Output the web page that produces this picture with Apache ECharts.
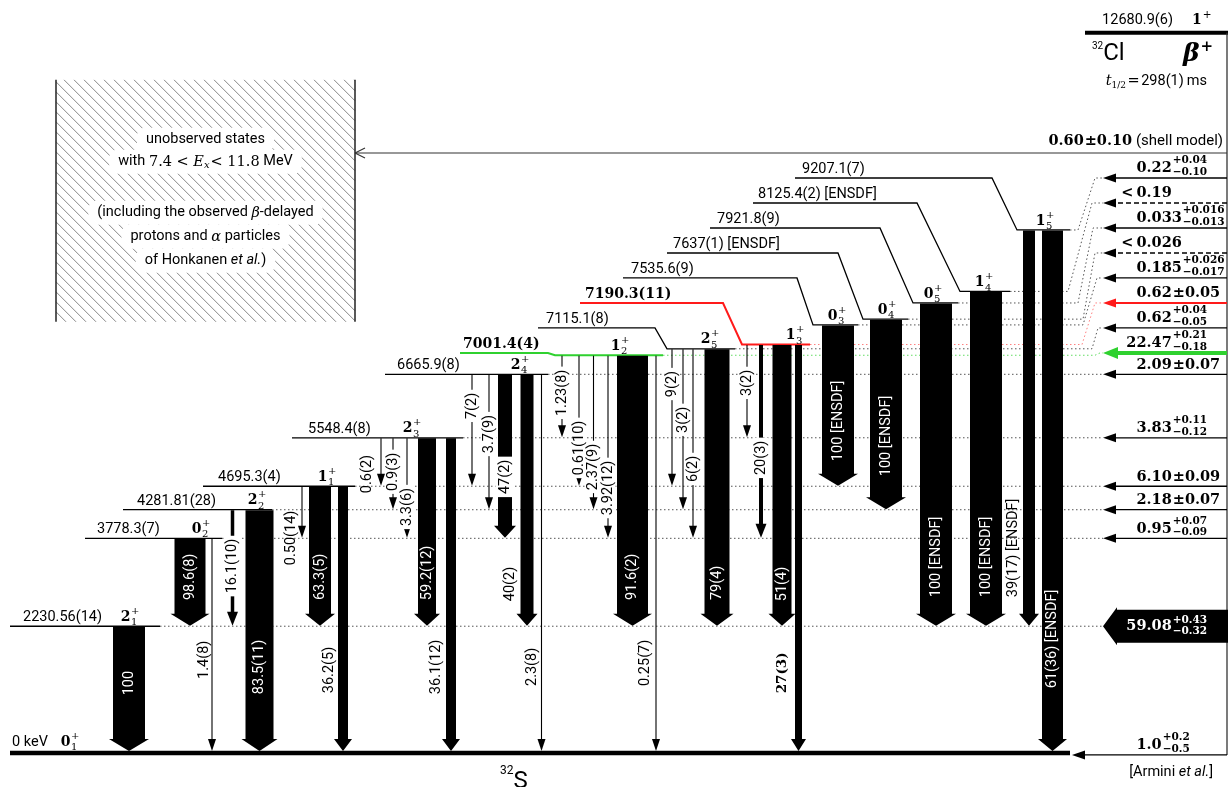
<!DOCTYPE html>
<html lang="en">
<head>
<meta charset="UTF-8">
<title>32Cl beta decay to 32S</title>
<script src="https://cdn.jsdelivr.net/npm/echarts@6/dist/echarts.min.js"></script>
<style>
html, body { margin: 0; padding: 0; background: #fff; }
#main { width: 1230px; height: 787px; }
</style>
</head>
<body>
<div id="main"></div>
<script>
// ---------- data: 32S levels fed in the beta+ decay of 32Cl ----------
var levelEnergy = [0, 2230.56, 3778.3, 4281.81, 4695.3, 5548.4, 6665.9, 7001.4, 7115.1, 7190.3, 7535.6, 7637, 7921.8, 8125.4, 9207.1];
var levelLabel = ['0 keV', '2230.56(14)', '3778.3(7)', '4281.81(28)', '4695.3(4)', '5548.4(8)', '6665.9(8)', '7001.4(4)',
    '7115.1(8)', '7190.3(11)', '7535.6(9)', '7637(1) [ENSDF]', '7921.8(9)', '8125.4(2) [ENSDF]', '9207.1(7)'];
var levelSpin = ['0', '2', '0', '2', '1', '2', '2', '1', '2', '1', '0', '0', '0', '1', '1'];
var levelSpinIndex = [1, 1, 2, 2, 1, 3, 4, 2, 5, 3, 3, 4, 5, 4, 5];

// gamma transitions: from level, to level, relative intensity
var gammaFrom = [1, 2, 2, 3, 3, 4, 4, 4, 5, 5, 5, 5, 5, 6, 6, 6, 6, 6, 7, 7, 7, 7, 7, 7, 8, 8, 8, 8, 9, 9, 9, 9, 10, 11, 12, 13, 14, 14];
var gammaTo   = [0, 1, 0, 1, 0, 2, 1, 0, 4, 3, 2, 1, 0, 4, 3, 2, 1, 0, 5, 4, 3, 2, 1, 0, 4, 3, 2, 1, 5, 2, 1, 0, 4, 3, 1, 1, 1, 0];
var gammaIntensity = ['100', '98.6(8)', '1.4(8)', '16.1(10)', '83.5(11)', '0.50(14)', '63.3(5)', '36.2(5)',
    '0.6(2)', '0.9(3)', '3.3(6)', '59.2(12)', '36.1(12)', '7(2)', '3.7(9)', '47(2)', '40(2)', '2.3(8)',
    '1.23(8)', '0.61(10)', '2.37(9)', '3.92(12)', '91.6(2)', '0.25(7)', '9(2)', '3(2)', '6(2)', '79(4)',
    '3(2)', '20(3)', '51(4)', '27(3)', '100 [ENSDF]', '100 [ENSDF]', '100 [ENSDF]', '100 [ENSDF]',
    '39(17) [ENSDF]', '61(36) [ENSDF]'];

// beta feeding in %, first entry: unobserved states (shell model)
var feedLevel = [-1, 14, 13, 12, 11, 10, 9, 8, 7, 6, 5, 4, 3, 2, 1, 0];
var feedValue = ['0.60', '0.22', '<0.19', '0.033', '<0.026', '0.185', '0.62', '0.62', '22.47', '2.09', '3.83', '6.10', '2.18', '0.95', '59.08', '1.0'];
var feedErrUp = ['0.10', '0.04', '', '0.016', '', '0.026', '0.05', '0.04', '0.21', '0.07', '0.11', '0.09', '0.07', '0.07', '0.43', '0.2'];
var feedErrDown = ['0.10', '0.10', '', '0.013', '', '0.017', '0.05', '0.05', '0.18', '0.07', '0.12', '0.09', '0.07', '0.09', '0.32', '0.5'];

var parentEnergy = 12680.9;
var parentLabel = '12680.9(6)';

// ---------- layout (x in px, label heights in keV) ----------
var levelX1 = [10, 10, 85, 123, 203, 292, 385, 555, 667, 742, 813, 863, 913, 960, 1017];
var levelX2 = [1070, 160, 222, 272, 355, 463, 548, 663, 735, 810, 858, 908, 958, 1010, 1070];
var levelTextX = [12, 23, 97, 137, 218, 308, 397, 463, 546, 585, 631, 673, 717, 758, 802];
var levelSpinX = [70, 130, 201, 257, 327, 412, 520, 620, 710, 795, 837, 887, 933, 984, 1045];
var levelSlot = [0, 0, 0, 0, 0, 0, 0, 8, 7, 6, 5, 4, 3, 2, 1];
var levelSegX1 = [0, 0, 0, 0, 0, 0, 0, 460, 538, 580, 623, 667, 710, 753, 795];
var levelSegX2 = [0, 0, 0, 0, 0, 0, 0, 548, 655, 723, 797, 838, 880, 917, 992];
var dotBendX1 = [0, 0, 0, 0, 0, 0, 0, 1095, 1092, 1082, 1083, 1083, 1078, 1068, 1078];
var dotBendX2 = [0, 0, 0, 0, 0, 0, 0, 1100, 1098, 1095, 1097, 1095, 1093, 1092, 1095];
var levelColor = {7: '#2fd12f', 9: '#ff1a1a'};
var dotColor = {7: '#63dd63', 9: '#ff8080'};

var gammaX = [129, 190, 212, 232.5, 259.5, 302, 320, 343, 381, 393, 407, 427, 451, 472, 489, 505, 527, 541.5,
    562, 579, 593.5, 608, 632.5, 656, 672, 683, 693, 717, 747, 761, 782, 798.5, 838, 886, 936, 986, 1029, 1052.5];
var gammaW = [32, 31, 0, 3.5, 28, 0, 22, 10, 0, 0, 0, 18, 10, 0, 0, 14, 13, 0,
    0, 0, 0, 0, 31, 0, 0, 0, 0, 25, 0, 4, 19, 7, 32, 32, 32, 32, 12, 21];
var gammaLabelMode = ['in', 'in', 'left', 'on', 'in', 'left', 'in', 'left', 'left', 'on', 'on', 'in', 'left', 'on', 'on', 'on', 'left', 'left',
    'on', 'on', 'on', 'on', 'in', 'left', 'on', 'on', 'on', 'in', 'on', 'on', 'in', 'left', 'in', 'in', 'in', 'in', 'left', 'in'];
var gammaLabelE = [1230, 3100, 1640, 3290, 1515, 3785, 3100, 1460, 4910, 4950, 4330, 3170, 1515, 6110, 5615, 4860, 2975, 1515,
    6340, 5370, 5035, 4665, 3100, 1585, 6495, 5865, 5000, 2995, 6515, 5195, 2975, 1410, 5845, 5580, 3450, 3450, 3610, 2005];
var gammaLabelDx = [0, 0, -8, 0, 0, -11, 0, -14, -13.5, 0, 0, 0, -15, 0, 0, 0, -17, -9.5,
    0, 0, 0, 0, 0, -11, 0, 0, 0, 0, 0, 0, 0, -16.5, 0, 0, 0, 0, -15.5, 0];
var boldGamma = [31];

var FEED_X0 = 1227, FEED_DOT = 1146.5;
var feedSlot = [0, 1, 2, 3, 4, 5, 6, 7, 8, -1, -1, -1, -1, -1, -1, -1];
var feedTipX = [355, 1103, 1103, 1103, 1103, 1103, 1103, 1103, 1103, 1103, 1103, 1103, 1103, 1103, 1103, 1072];
var feedStyle = ['open', 'solid', 'dash', 'solid', 'dash', 'solid', 'red', 'solid', 'green', 'solid', 'solid', 'solid', 'solid', 'solid', 'big', 'solid'];
var SLOT_TOP_E = 10562, SLOT_STEP_E = 440;
var BOX = [56, 355, 7590, 11850];

function slotE(k) { return SLOT_TOP_E - SLOT_STEP_E * k; }

// ---------- drawing helpers ----------
var SANS = 'Roboto, "DejaVu Sans", sans-serif';
var SERIF = '"DejaVu Serif", serif';
function font(size, fam, weight, style) {
    return (style || 'normal') + ' ' + (weight || 'normal') + ' ' + size + 'px ' + fam;
}
var mctx = document.createElement('canvas').getContext('2d');
function tw(s, f) { mctx.font = f; return mctx.measureText(s).width; }

function T(x, y, s, f, o) {
    o = o || {};
    var st = {text: s, font: f, fill: o.fill || '#000', align: o.align || 'left', textAlign: o.align || 'left',
        verticalAlign: 'middle', textVerticalAlign: 'middle'};
    return {type: 'text', x: x, y: y, rotation: o.rot || 0, z2: o.z2 || 20, style: st};
}
function L(x1, y1, x2, y2, c, w, dash, z2) {
    var st = {stroke: c || '#000', lineWidth: w || 1};
    if (dash) st.lineDash = dash;
    return {type: 'line', z2: z2 || 5, shape: {x1: x1, y1: y1, x2: x2, y2: y2}, style: st};
}
function PG(pts, c, z2) {
    return {type: 'polygon', z2: z2 || 6, shape: {points: pts}, style: {fill: c || '#000'}};
}
function R(x, y, w, h, z2, r) {
    return {type: 'rect', z2: z2 || 15, shape: {x: x, y: y, width: w, height: h, r: r || 0}, style: {fill: '#fff'}};
}
// sequence of text pieces; a piece with sup/sub is stacked
function runs(x, y, parts, align, fill) {
    var ws = parts.map(function (p) {
        var w = p.t != null ? tw(p.t, p.f) : Math.max(tw(p.sup, p.f), tw(p.sub, p.f));
        return w + (p.gap || 0);
    });
    var total = ws.reduce(function (a, b) { return a + b; }, 0);
    var cx = align === 'center' ? x - total / 2 : align === 'right' ? x - total : x;
    var out = [];
    parts.forEach(function (p, k) {
        var fl = p.fill || fill;
        if (p.t != null) out.push(T(cx, y + (p.dy || 0), p.t, p.f, {fill: fl}));
        else {
            out.push(T(cx, y + p.dsup, p.sup, p.f, {fill: fl}));
            out.push(T(cx, y + p.dsub, p.sub, p.f, {fill: fl}));
        }
        cx += ws[k];
    });
    out.total = total;
    return out;
}
function spinLabel(xc, yLine, j, n) {
    return runs(xc, yLine - 9, [
        {t: j, f: font(14, SERIF, 'bold'), gap: 0.5},
        {sup: '+', sub: String(n), f: font(10, SERIF), dsup: -6, dsub: 5.5}
    ], 'center');
}

// ---------- series renderers ----------
function renderDecor(params, api) {
    var ch = [];
    // hatched box of unobserved states
    var b0 = api.coord([BOX[0], BOX[2]]), b1 = api.coord([BOX[1], BOX[3]]);
    var bx0 = b0[0], bx1 = b1[0], by0 = b1[1], by1 = b0[1], H = by1 - by0;
    for (var xs = bx0 - H; xs < bx1; xs += 10) {
        var t0 = Math.max(0, bx0 - xs), t1 = Math.min(H, bx1 - xs);
        if (t1 > t0) ch.push(L(xs + t0, by0 + t0, xs + t1, by0 + t1, '#7a7a7a', 0.9, null, 1));
    }
    ch.push(L(bx0, by0, bx0, by1, '#222', 1.5, null, 3), L(bx1, by0, bx1, by1, '#222', 1.5, null, 3));
    var S = font(14.5, SANS), Si = font(14.5, SANS, 'normal', 'italic');
    var M = font(14.5, SERIF), Mi = font(14.5, SERIF, 'normal', 'italic'), Mis = font(10, SERIF, 'normal', 'italic');
    var lines = [
        [60, [{t: 'unobserved states', f: S}]],
        [82, [{t: 'with ', f: S}, {t: '7.4 < ', f: M}, {t: 'E', f: Mi}, {t: 'x', f: Mis, dy: 3.5, gap: 1}, {t: '< 11.8', f: M}, {t: ' MeV', f: S}]],
        [133, [{t: '(including the observed ', f: S}, {t: 'β', f: Mi}, {t: '-delayed', f: S}]],
        [157, [{t: 'protons and ', f: S}, {t: 'α', f: Mi}, {t: ' particles', f: S}]],
        [181, [{t: 'of Honkanen ', f: S}, {t: 'et al.', f: Si}, {t: ')', f: S}]]
    ];
    var cxBox = (bx0 + bx1) / 2;
    lines.forEach(function (ln) {
        var r = runs(cxBox, by0 + ln[0], ln[1], 'center');
        ch.push(R(cxBox - r.total / 2 - 9, by0 + ln[0] - 12, r.total + 18, 24, 2, 8));
        ch = ch.concat(r);
    });
    // parent state 32Cl
    var pa = api.coord([1085, parentEnergy]), pb = api.coord([1228, parentEnergy]);
    var py = pa[1];
    ch.push(L(pa[0], py, pb[0], py, '#000', 4));
    var g = api.coord([FEED_X0, 0]);
    ch.push(L(g[0], py, g[0], g[1] + 2, '#333', 1.3));
    ch.push(T(1173, py - 12, parentLabel, S, {align: 'right'}));
    ch = ch.concat(runs(1192, py - 12, [{t: '1', f: font(14, SERIF, 'bold'), gap: 1}, {t: '+', f: font(10.5, SERIF), dy: -5}], 'left'));
    ch = ch.concat(runs(1092, py + 21, [{t: '32', f: font(10, SANS), dy: -7}, {t: 'Cl', f: font(24, SANS)}], 'left'));
    ch = ch.concat(runs(1183, py + 22, [{t: 'β', f: font(25, SERIF, 'bold', 'italic'), gap: 1}, {t: '+', f: font(15, SERIF, 'bold'), dy: -8}], 'left'));
    ch = ch.concat(runs(1207, py + 49, [
        {t: 't', f: Mi}, {t: '1/2', f: font(9, SERIF), dy: 4, gap: 1.5},
        {t: '=', f: M, gap: 1.5}, {t: '298(1)', f: S, gap: 3}, {t: 'ms', f: S}], 'right'));
    // daughter and reference
    var gy = api.coord([0, 0])[1];
    ch = ch.concat(runs(500, gy + 18, [{t: '32', f: font(12, SANS), dy: 0}, {t: 'S', f: font(24, SANS), dy: 11}], 'left'));
    ch = ch.concat(runs(1213, gy + 19, [{t: '[Armini ', f: S}, {t: 'et al.', f: Si}, {t: ']', f: S}], 'right'));
    return {type: 'group', children: ch};
}

function renderDots(params, api) {
    var i = api.value(0);
    if (i === 0) return null;
    var E = levelEnergy[i];
    var pts = [api.coord([levelX2[i], E])];
    if (levelSlot[i]) {
        var sE = slotE(levelSlot[i]);
        pts.push(api.coord([dotBendX1[i], E]), api.coord([dotBendX2[i], sE]), api.coord([feedTipX[1], sE]));
    } else {
        pts.push(api.coord([feedTipX[1], E]));
    }
    return {type: 'polyline', shape: {points: pts},
        style: {stroke: dotColor[i] || '#555', lineWidth: 1, lineDash: [1.5, 2.5], fill: null}};
}

function renderLevel(params, api) {
    var i = api.value(0), E = levelEnergy[i];
    var p1 = api.coord([levelX1[i], E]), p2 = api.coord([levelX2[i], E]);
    var col = levelColor[i] || '#000';
    var lw = i === 0 ? 4.5 : (levelColor[i] ? 2 : 1.3);
    var pts = [p1, p2], ty = p1[1];
    if (levelSlot[i]) {
        var sE = slotE(levelSlot[i]);
        var s1 = api.coord([levelSegX1[i], sE]), s2 = api.coord([levelSegX2[i], sE]);
        pts = [s1, s2, p1, p2];
        ty = s1[1];
    }
    var ch = [{type: 'polyline', shape: {points: pts}, style: {stroke: col, lineWidth: lw, fill: null}}];
    var f = levelColor[i] ? font(14, SERIF, 'bold') : font(14.5, SANS);
    var tx = api.coord([levelTextX[i], E])[0];
    ch.push(T(tx, ty - (i === 0 ? 11 : 8.5), levelLabel[i], f));
    ch = ch.concat(spinLabel(api.coord([levelSpinX[i], E])[0], p1[1] - (i === 0 ? 2 : 0), levelSpin[i], levelSpinIndex[i]));
    return {type: 'group', children: ch};
}

function renderGamma(params, api) {
    var i = api.value(0);
    var a = api.coord([gammaX[i], levelEnergy[gammaFrom[i]]]);
    var b = api.coord([gammaX[i], levelEnergy[gammaTo[i]]]);
    var x = a[0], y0 = a[1] + 0.5, y1 = b[1] - (gammaTo[i] === 0 ? 2 : 0.5), w = gammaW[i];
    var ch = [];
    if (w === 0) {
        ch.push(L(x, y0, x, y1 - 11, '#000', 1.1), PG([[x - 4, y1 - 12], [x + 4, y1 - 12], [x, y1]]));
    } else if (w < 6) {
        ch.push(L(x, y0, x, y1 - 13, '#000', w), PG([[x - 5.5, y1 - 14], [x + 5.5, y1 - 14], [x, y1]]));
    } else {
        var hw = w / 2 + 4, hl = 12;
        ch.push(PG([[x - w / 2, y0], [x + w / 2, y0], [x + w / 2, y1 - hl], [x + hw, y1 - hl], [x, y1],
            [x - hw, y1 - hl], [x - w / 2, y1 - hl]]));
    }
    var mode = gammaLabelMode[i];
    var ly = api.coord([gammaX[i], gammaLabelE[i]])[1];
    var f = boldGamma.indexOf(i) >= 0 ? font(13.5, SERIF, 'bold') : font(14.5, SANS);
    var rot = Math.PI / 2;
    if (mode === 'in') ch.push(T(x, ly, gammaIntensity[i], f, {fill: '#fff', align: 'center', rot: rot}));
    else if (mode === 'on') {
        var tl = tw(gammaIntensity[i], f) + 6, bw = Math.max(15, w + 5);
        ch.push(R(x - bw / 2, ly - tl / 2, bw, tl, 15));
        ch.push(T(x, ly, gammaIntensity[i], f, {align: 'center', rot: rot}));
    } else ch.push(T(x + gammaLabelDx[i], ly, gammaIntensity[i], f, {align: 'center', rot: rot}));
    return {type: 'group', children: ch};
}

function renderFeed(params, api) {
    var i = api.value(0);
    var E = feedSlot[i] >= 0 ? slotE(feedSlot[i]) : levelEnergy[feedLevel[i]];
    var p0 = api.coord([FEED_X0, E]), p1 = api.coord([feedTipX[i], E]);
    var y = p0[1] + (feedLevel[i] === 0 ? 2 : 0), x0 = p0[0], xt = p1[0];
    var s = feedStyle[i], ch = [];
    var col = s === 'red' ? '#ff1a1a' : s === 'green' ? '#2fd12f' : '#000';
    if (s === 'big') {
        ch.push(PG([[x0 + 1, y - 16.5], [xt + 14, y - 16.5], [xt + 14, y - 19], [xt, y], [xt + 14, y + 19],
            [xt + 14, y + 16.5], [x0 + 1, y + 16.5]]));
    } else if (s === 'open') {
        ch.push(L(x0, y, xt, y, '#333', 1.2), L(xt, y, xt + 10, y - 5, '#333', 1.2), L(xt, y, xt + 10, y + 5, '#333', 1.2));
    } else {
        var lw = s === 'green' ? 4 : s === 'red' ? 2 : 1.3;
        var hl = s === 'green' ? 15 : 13, hwd = s === 'green' ? 12 : 9;
        ch.push(L(x0, y, xt + hl - 1, y, col, lw, s === 'dash' ? [5, 3] : null));
        ch.push(PG([[xt, y], [xt + hl, y - hwd / 2], [xt + hl, y + hwd / 2]], col));
    }
    // label
    var big = s === 'big';
    var fill = big ? '#fff' : '#000';
    var fm = font(14.5, SERIF, 'bold'), fsm = font(10.5, SERIF, 'bold');
    var v = feedValue[i], up = feedErrUp[i], dn = feedErrDown[i];
    var lead = v.charAt(0) === '<';
    var num = lead ? v.slice(1) : v;
    var parts = [];
    if (lead) parts.push({t: '<', f: fm, gap: 3});
    parts.push({t: num, f: fm, gap: 1});
    if (up && up === dn) parts.push({t: '±' + up, f: fm});
    else if (up) parts.push({sup: '+' + up, sub: '−' + dn, f: fsm, dsup: big ? -6.5 : -8, dsub: big ? 4.5 : 3.5});
    var yc = big ? y + 0.5 : y - 9.5;
    if (i === 0) {
        parts.push({t: ' (shell model)', f: font(15, SANS)});
        ch = ch.concat(runs(1223, yc - 2, parts, 'right', fill));
    } else {
        var intW = (lead ? tw('<', fm) + 3 : 0) + tw(num.split('.')[0], fm);
        ch = ch.concat(runs(FEED_DOT - intW, yc, parts, 'left', fill));
    }
    return {type: 'group', children: ch};
}

function idx(a) { return a.map(function (v, i) { return [i, 0]; }); }

var myChart = echarts.init(document.getElementById('main'));
var option = {
    animation: false,
    backgroundColor: '#fff',
    grid: {left: 0, right: 0, top: 0, bottom: 0},
    xAxis: {type: 'value', min: 0, max: 1230, show: false},
    yAxis: {type: 'value', min: -600, max: 13256, show: false},
    series: [
        {type: 'custom', z: 1, silent: true, renderItem: renderDecor, data: [[0, 0]]},
        {type: 'custom', z: 2, silent: true, renderItem: renderDots, data: idx(levelEnergy)},
        {type: 'custom', z: 3, silent: true, renderItem: renderLevel, data: idx(levelEnergy)},
        {type: 'custom', z: 4, silent: true, renderItem: renderGamma, data: idx(gammaFrom)},
        {type: 'custom', z: 5, silent: true, renderItem: renderFeed, data: idx(feedLevel)}
    ]
};
myChart.setOption(option);
</script>
</body>
</html>
